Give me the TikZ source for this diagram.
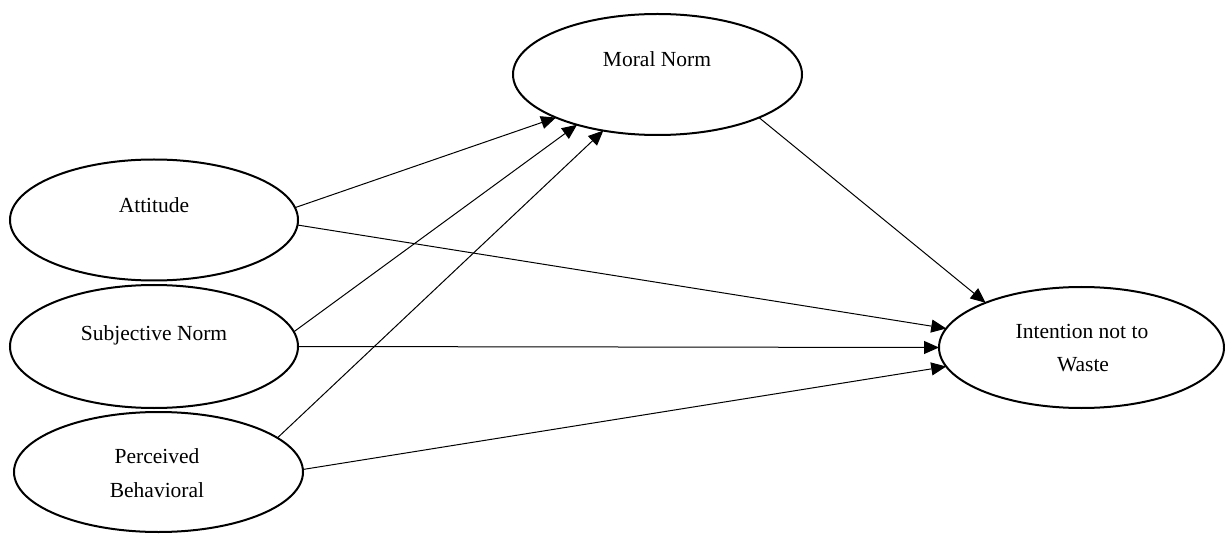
\documentclass[tikz,border=0pt]{standalone}
\usepackage{fontspec}
\setmainfont{Liberation Serif}
\usetikzlibrary{shapes.geometric,arrows.meta}
\begin{document}
\begin{tikzpicture}[x=1pt,y=-1pt,
  construct/.style={ellipse,draw,line width=2pt,inner sep=0pt,outer sep=0pt,
    minimum width=288pt,minimum height=121pt},
  lbl/.style={anchor=base,inner sep=0pt,font=\fontsize{21.5}{34}\selectfont},
  link/.style={line width=1pt,-{Triangle[length=15pt,width=13pt]}}]
\useasboundingbox (0,0) rectangle (1225,534);
% constructs
\node[construct,minimum width=289pt] (mn) at (657.5,74.5) {};
\node[construct] (att) at (154,220) {};
\node[construct,minimum height=123pt] (sub) at (154,346.5) {};
\node[construct,minimum width=289pt,minimum height=120pt] (per) at (158.5,472) {};
\node[construct,minimum width=285pt] (int) at (1081.5,347.5) {};
% texts
\node[lbl] (mnt) at (657,67) {Moral Norm};
\node[lbl] (attt) at (154,213) {Attitude};
\node[lbl] (subt) at (154,341) {Subjective Norm};
\node[lbl] (pert1) at (157,463) {Perceived};
\node[lbl] (pert2) at (157,497) {Behavioral};
\node[lbl] (intt1) at (1082,338) {Intention not to};
\node[lbl] (intt2) at (1083,371) {Waste};
% paths
\draw[link] (att.5) -- (mn.203);
\draw[link] (att.-2) -- (int.172);
\draw[link] (sub.6) -- (mn.212.6);
\draw[link] (sub.east) -- (int.west);
\draw[link] (per.16) -- (mn.226);
\draw[link] (per.1.6) -- (int.188.4);
\draw[link] (mn.337.5) -- (int.155.7);
\end{tikzpicture}
\end{document}
